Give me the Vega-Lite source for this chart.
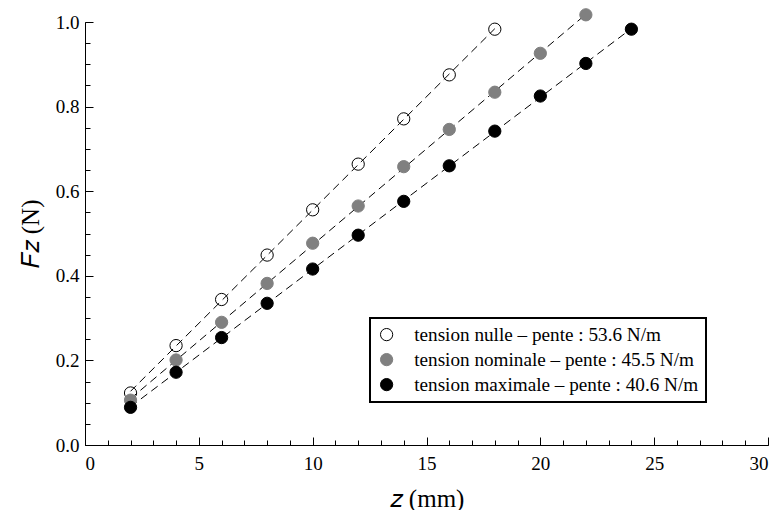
{
  "$schema": "https://vega.github.io/schema/vega-lite/v6.json",
  "width": 683,
  "height": 423,
  "autosize": {"type": "none"},
  "padding": {"left": 85, "top": 22, "right": 13, "bottom": 65},
  "config": {
    "view": {"stroke": null},
    "font": "Liberation Serif",
    "legend": {"strokeColor": "black", "strokeWidth": 2},
    "axis": {"grid": false, "domainColor": "black", "tickColor": "black", "labelColor": "black", "titleColor": "black", "labelFont": "Liberation Serif", "titleFont": "Liberation Serif", "labelFontSize": 19, "titleFontSize": 25, "titleFontWeight": "normal"}
  },
  "data": {
    "values": [
      {"serie": "tension nulle – pente : 53.6 N/m", "z": 2, "F": 0.123},
      {"serie": "tension nulle – pente : 53.6 N/m", "z": 4, "F": 0.235},
      {"serie": "tension nulle – pente : 53.6 N/m", "z": 6, "F": 0.344},
      {"serie": "tension nulle – pente : 53.6 N/m", "z": 8, "F": 0.449},
      {"serie": "tension nulle – pente : 53.6 N/m", "z": 10, "F": 0.556},
      {"serie": "tension nulle – pente : 53.6 N/m", "z": 12, "F": 0.664},
      {"serie": "tension nulle – pente : 53.6 N/m", "z": 14, "F": 0.771},
      {"serie": "tension nulle – pente : 53.6 N/m", "z": 16, "F": 0.875},
      {"serie": "tension nulle – pente : 53.6 N/m", "z": 18, "F": 0.983},
      {"serie": "tension nominale – pente : 45.5 N/m", "z": 2, "F": 0.106},
      {"serie": "tension nominale – pente : 45.5 N/m", "z": 4, "F": 0.201},
      {"serie": "tension nominale – pente : 45.5 N/m", "z": 6, "F": 0.290},
      {"serie": "tension nominale – pente : 45.5 N/m", "z": 8, "F": 0.382},
      {"serie": "tension nominale – pente : 45.5 N/m", "z": 10, "F": 0.477},
      {"serie": "tension nominale – pente : 45.5 N/m", "z": 12, "F": 0.565},
      {"serie": "tension nominale – pente : 45.5 N/m", "z": 14, "F": 0.658},
      {"serie": "tension nominale – pente : 45.5 N/m", "z": 16, "F": 0.746},
      {"serie": "tension nominale – pente : 45.5 N/m", "z": 18, "F": 0.834},
      {"serie": "tension nominale – pente : 45.5 N/m", "z": 20, "F": 0.926},
      {"serie": "tension nominale – pente : 45.5 N/m", "z": 22, "F": 1.017},
      {"serie": "tension maximale – pente : 40.6 N/m", "z": 2, "F": 0.089},
      {"serie": "tension maximale – pente : 40.6 N/m", "z": 4, "F": 0.172},
      {"serie": "tension maximale – pente : 40.6 N/m", "z": 6, "F": 0.254},
      {"serie": "tension maximale – pente : 40.6 N/m", "z": 8, "F": 0.335},
      {"serie": "tension maximale – pente : 40.6 N/m", "z": 10, "F": 0.416},
      {"serie": "tension maximale – pente : 40.6 N/m", "z": 12, "F": 0.496},
      {"serie": "tension maximale – pente : 40.6 N/m", "z": 14, "F": 0.576},
      {"serie": "tension maximale – pente : 40.6 N/m", "z": 16, "F": 0.660},
      {"serie": "tension maximale – pente : 40.6 N/m", "z": 18, "F": 0.742},
      {"serie": "tension maximale – pente : 40.6 N/m", "z": 20, "F": 0.825},
      {"serie": "tension maximale – pente : 40.6 N/m", "z": 22, "F": 0.902},
      {"serie": "tension maximale – pente : 40.6 N/m", "z": 24, "F": 0.983}
    ]
  },
  "resolve": {"axis": {"x": "independent", "y": "independent"}},
  "layer": [
    {
      "transform": [{"regression": "F", "on": "z", "groupby": ["serie"]}],
      "mark": {"type": "line", "color": "black", "strokeWidth": 1, "strokeDash": [8, 5]},
      "encoding": {
        "x": {"field": "z", "type": "quantitative", "scale": {"domain": [0, 30]},
              "axis": {"orient": "bottom", "values": [0,1,2,3,4,5,6,7,8,9,10,11,12,13,14,15,16,17,18,19,20,21,22,23,24,25,26,27,28,29,30], "labels": false, "tickSize": -5, "title": null, "domainWidth": 1}},
        "y": {"field": "F", "type": "quantitative", "scale": {"domain": [0, 1]},
              "axis": {"orient": "left", "values": [0,0.05,0.1,0.15,0.2,0.25,0.3,0.35,0.4,0.45,0.5,0.55,0.6,0.65,0.7,0.75,0.8,0.85,0.9,0.95,1], "labels": false, "tickSize": -5, "title": null, "domainWidth": 1}},
        "detail": {"field": "serie"}
      }
    },
    {
      "mark": {"type": "point", "shape": "circle", "size": 150, "strokeWidth": 1, "opacity": 1},
      "encoding": {
        "x": {"field": "z", "type": "quantitative",
              "axis": {"orient": "bottom", "values": [0, 5, 10, 15, 20, 25, 30], "tickSize": -8, "domain": false, "labelPadding": 17, "title": "𝑧 (mm)", "titlePadding": 13}},
        "y": {"field": "F", "type": "quantitative",
              "axis": {"orient": "left", "values": [0, 0.2, 0.4, 0.6, 0.8, 1.0], "format": ".1f", "tickSize": -8, "domain": false, "labelPadding": 14, "title": "𝐹𝑧 (N)", "titlePadding": 12}},
        "fill": {"field": "serie", "type": "nominal",
                 "scale": {"domain": ["tension nulle – pente : 53.6 N/m", "tension nominale – pente : 45.5 N/m", "tension maximale – pente : 40.6 N/m"], "range": ["transparent", "#808080", "#000000"]},
                 "legend": {"orient": "none", "legendX": 285, "legendY": 296, "title": null, "padding": 7, "labelFont": "Liberation Serif", "labelFontSize": 19.2, "labelColor": "black", "symbolSize": 150, "symbolStrokeWidth": 1, "rowPadding": 5, "labelOffset": 18, "labelLimit": 400}},
        "stroke": {"field": "serie", "type": "nominal",
                   "scale": {"domain": ["tension nulle – pente : 53.6 N/m", "tension nominale – pente : 45.5 N/m", "tension maximale – pente : 40.6 N/m"], "range": ["#000000", "#808080", "#000000"]}}
      }
    }
  ]
}
